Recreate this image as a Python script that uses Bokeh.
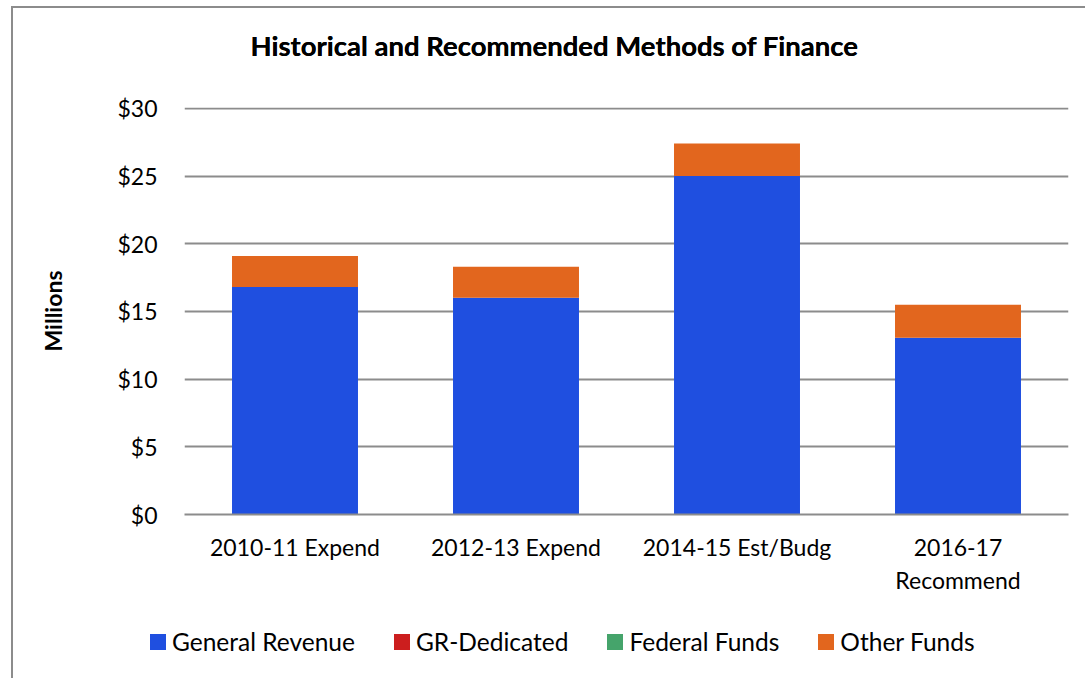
from bokeh.plotting import figure
from bokeh.layouts import column
from bokeh.models import FactorRange, Range1d, FixedTicker, NumeralTickFormatter, Div, Title
from bokeh.embed import file_html
from bokeh.resources import INLINE

categories = ["2010-11 Expend", "2012-13 Expend", "2014-15 Est/Budg", "2016-17\nRecommend"]
general_revenue = [16.8, 16.0, 25.0, 13.05]
gr_dedicated = [0.0, 0.0, 0.0, 0.0]
federal_funds = [0.0, 0.0, 0.0, 0.0]
other_funds = [2.3, 2.3, 2.4, 2.45]
series_names = ["General Revenue", "GR-Dedicated", "Federal Funds", "Other Funds"]
y_ticks = [0, 5, 10, 15, 20, 25, 30]

colors = ["#1F4FE0", "#CC1E1E", "#45A46B", "#E2661E"]
FONT = "Lato"
W = 1072

data = {"cat": categories, "gr": general_revenue, "grd": gr_dedicated,
        "fed": federal_funds, "oth": other_funds}

p = figure(x_range=FactorRange(*categories, range_padding=0), y_range=Range1d(0, 30.06),
           width=W, height=600, output_backend="svg", toolbar_location=None,
           min_border_left=171, min_border_right=17, min_border_top=99, min_border_bottom=94)

p.vbar_stack(["gr", "grd", "fed", "oth"], x="cat", width=0.57, color=colors,
             source=data, line_color=None, legend_label=series_names)
p.legend.visible = False

p.title.text = "Historical and Recommended Methods of Finance"
p.title.align = "left"
p.title.offset = 66
p.title.standoff = 0
p.title.text_font = FONT
p.title.text_font_size = "27.5px"
p.title.text_font_style = "bold"
p.title.text_color = "#000000"

# empty spacer between the title and the plot area
spacer = Title(text=" ", text_font_size="1px", standoff=8)
p.above = [spacer, p.title]

p.outline_line_color = None
p.xgrid.grid_line_color = None
p.ygrid.grid_line_color = "#8c8c8c"
p.ygrid.grid_line_width = 2
p.yaxis.ticker = FixedTicker(ticks=y_ticks)
p.yaxis.formatter = NumeralTickFormatter(format="$0")
p.yaxis.axis_line_color = None
p.yaxis.major_tick_line_color = None
p.yaxis.minor_tick_line_color = None
p.yaxis.major_label_standoff = 21
p.yaxis.axis_label = "Millions"
p.yaxis.axis_label_text_font = FONT
p.yaxis.axis_label_text_font_style = "bold"
p.yaxis.axis_label_text_font_size = "23px"
p.yaxis.axis_label_text_color = "#000000"
p.yaxis.axis_label_standoff = 47

p.xaxis.axis_line_color = "#8c8c8c"
p.xaxis.axis_line_width = 2
p.xaxis.major_tick_line_color = None
p.xaxis.minor_tick_line_color = None
p.xaxis.major_label_standoff = 12

for ax in (p.xaxis[0], p.yaxis[0]):
    ax.major_label_text_font = FONT
    ax.major_label_text_font_size = "23px"
    ax.major_label_text_color = "#000000"

# legend strip (HTML), built from the series names and colours
items_html = "".join(
    f'<span style="display:inline-flex;align-items:center;">'
    f'<span style="display:inline-block;width:16px;height:16px;background:{c};margin-right:6px;"></span>'
    f'{n}</span>'
    for n, c in zip(series_names, colors)
)
legend_div = Div(
    text=f'<div style="display:flex;gap:39px;padding-left:137px;padding-top:20px;'
         f'font-family:{FONT};font-size:24.5px;line-height:28px;color:#000;">{items_html}</div>',
    width=W, height=70, margin=0)

layout = column(p, legend_div, spacing=0,
                styles={"margin-left": "11px", "margin-top": "6px",
                        "border-left": "2px solid #8c8c8c", "border-top": "2px solid #8c8c8c"})

open("out.html", "w").write(file_html(layout, INLINE))
